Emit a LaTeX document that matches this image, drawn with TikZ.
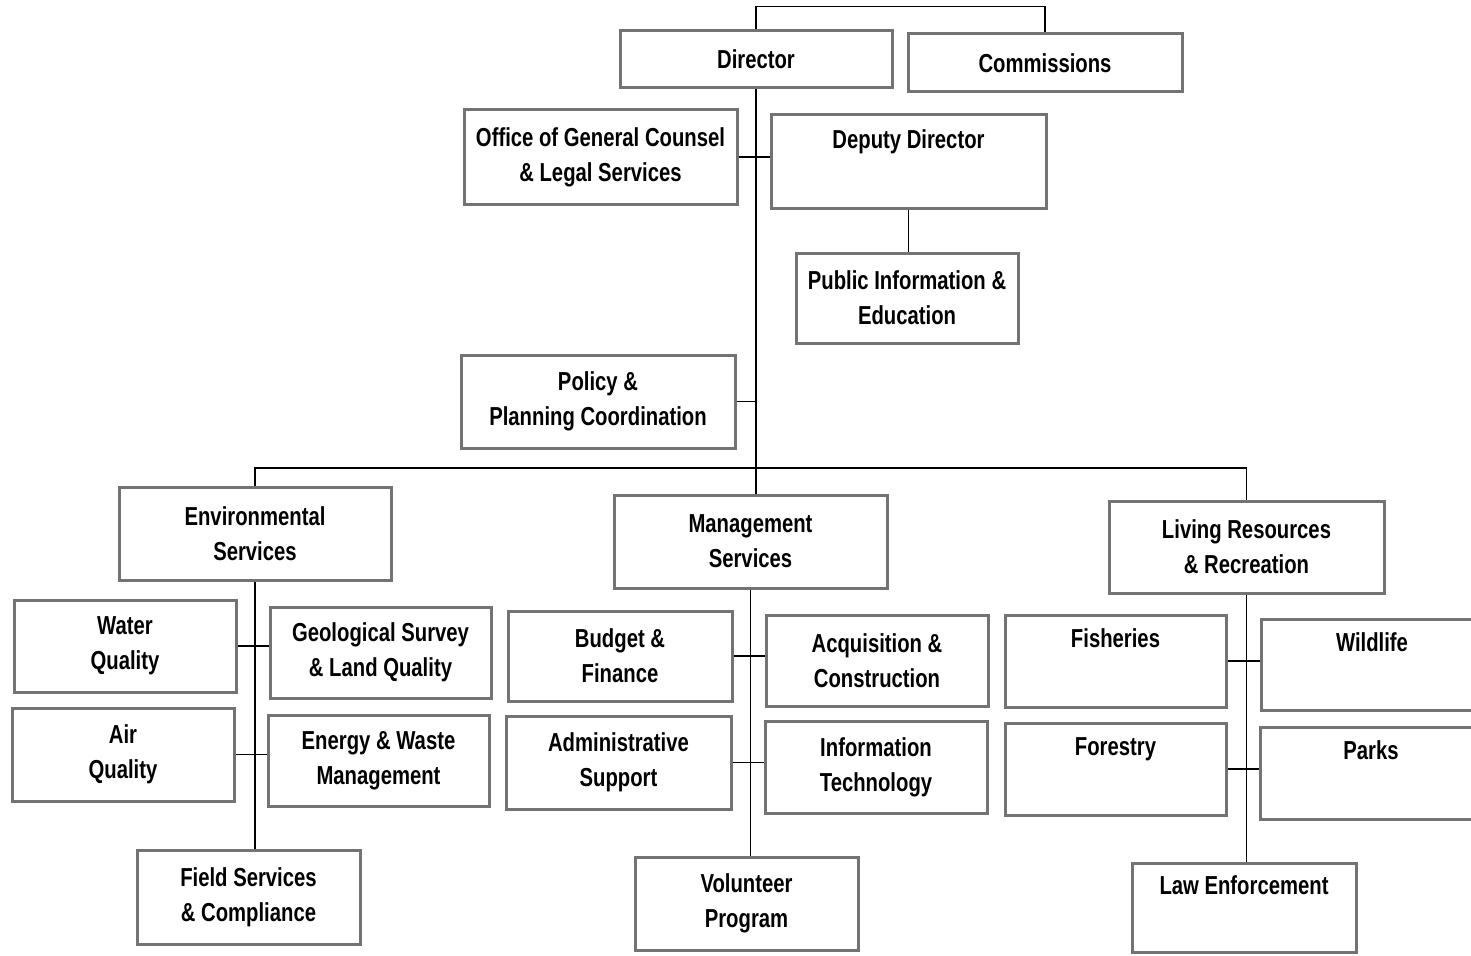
\documentclass[tikz,border=0pt]{standalone}
\usepackage{fontspec}
\setmainfont{Liberation Sans}[FakeStretch=0.78]
\tikzset{
  box/.style={draw=black!55, line width=3pt, fill=white, align=center, inner sep=0pt,
    font=\fontsize{26}{35}\selectfont\bfseries},
  conn/.style={draw=black, line width=1.8pt}
}
\newcommand\bx[6]{%
  \pgfmathsetmacro\bw{#4-#2}\pgfmathsetmacro\bh{#5-#3}%
  \node[box, minimum width=\bw pt, minimum height=\bh pt] (#1) at ({(#2+#4)/2},{(#3+#5)/2}) {#6};}
\begin{document}
\begin{tikzpicture}[x=1pt,y=-1pt]
\useasboundingbox (0,0) rectangle (1471,955);
\clip (0,0) rectangle (1471,955);
\fill[white] (0,0) rectangle (1471,955);
\coordinate (bus) at (756,468);
% boxes
\bx{dir}{620}{31}{892}{88}{Director}
\bx{com}{908}{34}{1182}{92}{Commissions}
\bx{ogc}{464}{110}{737}{204}{Office of General Counsel\\\& Legal Services}
\bx{dep}{771}{115}{1046}{208}{Deputy Director\\\strut}
\bx{pie}{796}{253}{1018}{343}{Public Information \&\\Education}
\bx{ppc}{461}{355}{735}{448}{Policy \&\\Planning Coordination}
\bx{env}{119}{487}{391}{580}{Environmental\\Services}
\bx{mgt}{614}{495}{887}{588}{Management\\Services}
\bx{liv}{1109}{501}{1384}{593}{Living Resources\\\& Recreation}
\bx{wq}{14}{600}{236}{692}{Water\\Quality}
\bx{geo}{270}{607}{491}{698}{Geological Survey\\\& Land Quality}
\bx{aq}{12}{708}{234}{801}{Air\\Quality}
\bx{ew}{268}{715}{489}{806}{Energy \& Waste\\Management}
\bx{fs}{137}{850}{360}{944}{Field Services\\\& Compliance}
\bx{bf}{508}{611}{732}{701}{Budget \&\\Finance}
\bx{ac}{766}{615}{988}{706}{Acquisition \&\\Construction}
\bx{as}{506}{716}{731}{809}{Administrative\\Support}
\bx{it}{765}{721}{987}{813}{Information\\Technology}
\bx{vp}{635}{857}{858}{950}{Volunteer\\Program}
\bx{fi}{1005}{615}{1226}{707}{Fisheries\\\strut}
\bx{wl}{1261}{619}{1483}{710}{Wildlife\\\strut}
\bx{fo}{1005}{723}{1226}{815}{Forestry\\\strut}
\bx{pk}{1260}{727}{1482}{819}{Parks\\\strut}
\bx{le}{1132}{863}{1356}{952}{Law Enforcement\\\strut}
% connectors
\draw[conn] (dir.north) -- ++(0,-23) -| (com.north);
\draw[conn] (dir.south) -- (dir.south |- mgt.north);
\draw[conn] (ogc.east) -- (ogc.east -| dep.west);
\draw[conn] (dep.south) -- (dep.south |- pie.north);
\draw[conn] (ppc.east) -- (ppc.east -| dir.south);
\draw[conn] (env.north) -- (env.north |- bus) -- (liv.north |- bus) -- (liv.north);
\draw[conn] (env.south) -- (env.south |- fs.north);
\draw[conn] (wq.east) -- (wq.east -| geo.west);
\draw[conn] (aq.east) -- (aq.east -| ew.west);
\draw[conn] (mgt.south) -- (mgt.south |- vp.north);
\draw[conn] (bf.east) -- (bf.east -| ac.west);
\draw[conn] (as.east) -- (as.east -| it.west);
\draw[conn] (liv.south) -- (liv.south |- le.north);
\draw[conn] (fi.east) -- (fi.east -| wl.west);
\draw[conn] (fo.east) -- (fo.east -| pk.west);
\end{tikzpicture}
\end{document}
